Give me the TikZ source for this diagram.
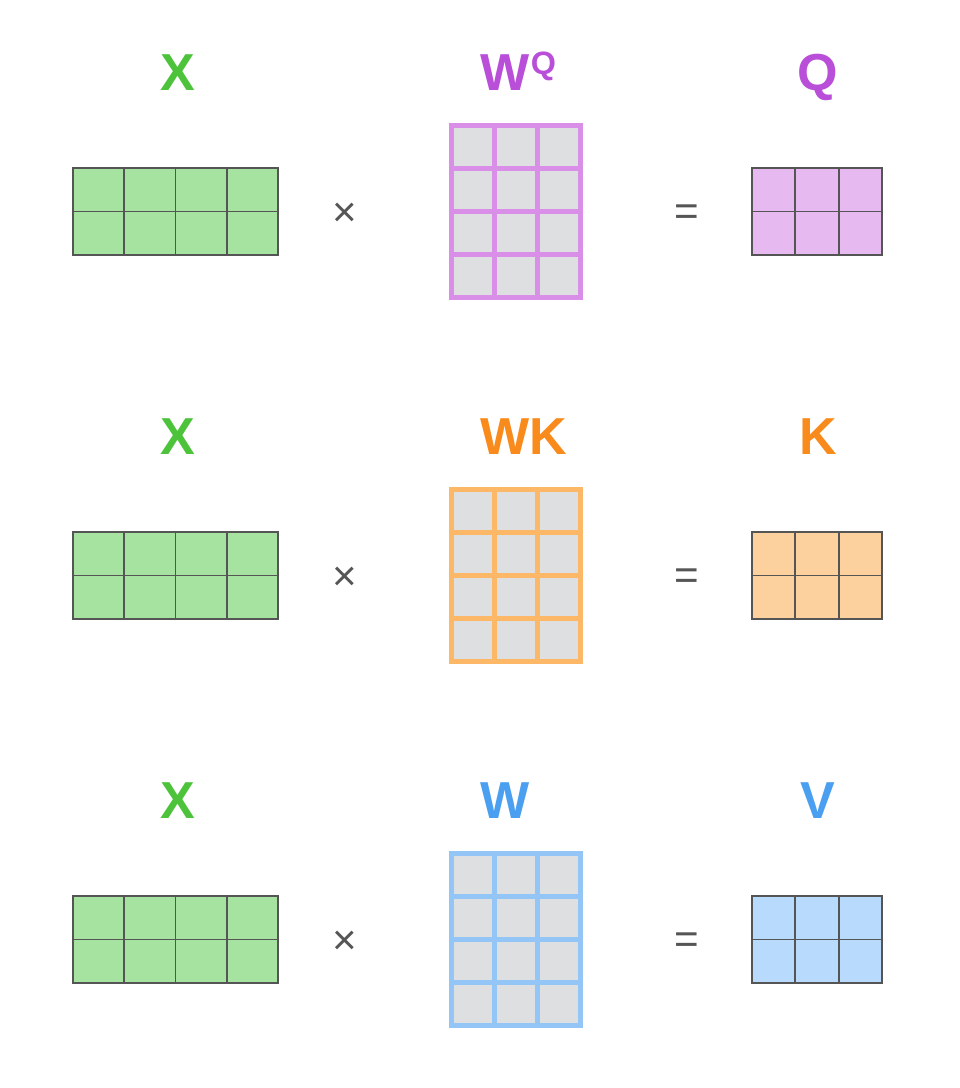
\documentclass[tikz,border=0pt]{standalone}
\usepackage{fontspec}
\setmainfont{Liberation Sans}

\definecolor{xlab}{HTML}{4CC33B}
\definecolor{xfill}{HTML}{A6E3A0}
\definecolor{qlab}{HTML}{B94FD8}
\definecolor{qline}{HTML}{D98EE8}
\definecolor{qfill}{HTML}{E6BAF1}
\definecolor{klab}{HTML}{F98A1C}
\definecolor{kline}{HTML}{FDB867}
\definecolor{kfill}{HTML}{FDD19E}
\definecolor{vlab}{HTML}{4A9FF0}
\definecolor{vline}{HTML}{93C6F7}
\definecolor{vfill}{HTML}{B8DAFC}
\definecolor{cellgray}{HTML}{DEDFE1}
\definecolor{opgray}{HTML}{555555}

\tikzset{
  lab/.style={font=\fontsize{37}{40}\selectfont\bfseries, inner sep=0pt, anchor=base},
  op/.style={text=opgray, font=\fontsize{30}{32}\selectfont, inner sep=0pt},
  small/.style={draw=opgray, line width=1.2pt},
  wgrid/.style={line width=3.5pt}
}

\begin{document}
\begin{tikzpicture} [x=0.025cm, y=-0.025cm]

\useasboundingbox (0,0) rectangle (960,1088);

% one row per product: X times W = Q, K, V
\foreach \i/\dy/\wl/\ol/\c in {1/0/{W\kern1pt\raisebox{11pt}{\fontsize{23}{24}\selectfont Q}}/Q/q, 2/364/WK/K/k, 3/728/W/V/v}{
\begin{scope}[shift={(0,\dy)}]

\node [lab, text=xlab] (xlab\i) at (178,90) {X};
\node [lab, text=\c lab, anchor=base west] (wlab\i) at (480,90) {\wl};
\node [lab, text=\c lab] (olab\i) at (818,90) {\ol};

% input
\fill [xfill] (73,168) rectangle (278,255);
\foreach \k in {1,2,3} \draw [small] (73+51.25*\k,168) -- (73+51.25*\k,255);
\draw [small] (73,211.5) -- (278,211.5);
\draw [small] (73,168) rectangle (278,255);

\node [op] (times\i) at (345,215) {×};

% weights
\fill [cellgray] (451.5,125.5) rectangle (580.5,297.5);
\foreach \k in {1,2} \draw [wgrid, \c line] (451.5+43*\k,125.5) -- (451.5+43*\k,297.5);
\foreach \k in {1,2,3} \draw [wgrid, \c line] (451.5,125.5+43*\k) -- (580.5,125.5+43*\k);
\draw [wgrid, \c line] (451.5,125.5) rectangle (580.5,297.5);

\node [op] (eq\i) at (687,215) {=};

% output
\fill [\c fill] (752,168) rectangle (882,255);
\foreach \k in {1,2} \draw [small] (752+43.33*\k,168) -- (752+43.33*\k,255);
\draw [small] (752,211.5) -- (882,211.5);
\draw [small] (752,168) rectangle (882,255);

\end{scope}
}

\end{tikzpicture}
\end{document}
